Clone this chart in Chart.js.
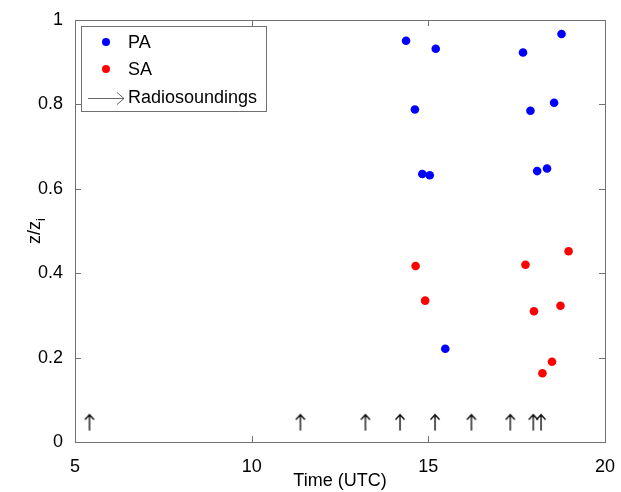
<!DOCTYPE html>
<html>
<head>
<meta charset="utf-8">
<script src="https://cdn.jsdelivr.net/npm/chart.js@4/dist/chart.umd.min.js"></script>
<style>
  html, body { margin: 0; padding: 0; background: #fff; }
  #wrap { width: 621px; height: 492px; }
</style>
</head>
<body>
<div id="wrap"><canvas id="chart" width="621" height="492"></canvas></div>
<script>
// ==============================
// DATA
// ==============================
const paTime = [14.37, 15.21, 17.68, 18.77, 14.62, 17.89, 18.56, 14.83, 15.04, 18.08, 18.36, 15.48];
const paZ    = [0.951, 0.932, 0.923, 0.967, 0.788, 0.785, 0.804, 0.635, 0.632, 0.642, 0.648, 0.221];

const saTime = [14.64, 14.91, 17.75, 18.97, 17.99, 18.74, 18.50, 18.23];
const saZ    = [0.417, 0.335, 0.420, 0.452, 0.310, 0.323, 0.190, 0.163];

const soundingTime  = [5.41, 11.38, 13.22, 14.20, 15.19, 16.22, 17.32, 17.97, 18.19];
const soundingLevel = 0.047;

const xTicks = [5, 10, 15, 20];
const yTicks = [0, 0.2, 0.4, 0.6, 0.8, 1];

const FONT = "'Liberation Sans', Arial, sans-serif";
const FRAME = "#707070";

// up arrow marker for the radiosoundings
function makeArrow() {
  const c = document.createElement("canvas");
  c.width = 12; c.height = 18;
  const g = c.getContext("2d");
  g.strokeStyle = "#000";
  g.lineWidth = 1.3;
  g.beginPath();
  g.moveTo(6, 17.5); g.lineTo(6, 1.5);
  g.moveTo(1.5, 6.5); g.lineTo(6, 1.5); g.lineTo(10.5, 6.5);
  g.stroke();
  return c;
}

const toPts = (xs, ys) => xs.map((x, i) => ({ x: x, y: Array.isArray(ys) ? ys[i] : ys }));

// ==============================
// FRAME, TICKS, TITLES, LEGEND
// ==============================
const decorPlugin = {
  id: "decor",
  afterDatasetsDraw(chart) {
    const { ctx, chartArea: a, scales } = chart;
    ctx.save();
    ctx.strokeStyle = FRAME;
    ctx.lineWidth = 1;
    ctx.strokeRect(a.left + 0.5, a.top + 0.5, a.right - a.left, a.bottom - a.top);
    ctx.beginPath();
    xTicks.forEach(t => {
      const px = Math.round(scales.x.getPixelForValue(t)) + 0.5;
      ctx.moveTo(px, a.bottom); ctx.lineTo(px, a.bottom - 6);
      ctx.moveTo(px, a.top); ctx.lineTo(px, a.top + 6);
    });
    yTicks.forEach(t => {
      const py = Math.round(scales.y.getPixelForValue(t)) + 0.5;
      ctx.moveTo(a.left, py); ctx.lineTo(a.left + 6, py);
      ctx.moveTo(a.right, py); ctx.lineTo(a.right - 6, py);
    });
    ctx.stroke();

    // y title z/z_i
    ctx.fillStyle = "#000";
    ctx.translate(34, (a.top + a.bottom) / 2);
    ctx.rotate(-Math.PI / 2);
    ctx.font = "18px " + FONT;
    ctx.textBaseline = "alphabetic";
    const main = "z/z";
    const w = ctx.measureText(main).width;
    ctx.font = "13px " + FONT;
    const ws = ctx.measureText("i").width;
    const x0 = -(w + ws) / 2;
    ctx.font = "18px " + FONT;
    ctx.fillText(main, x0, 6);
    ctx.font = "13px " + FONT;
    ctx.fillText("i", x0 + w, 11);
    ctx.restore();

    // legend
    ctx.save();
    const L = { x: 81.5, y: 26.5, w: 185, h: 85 };
    ctx.fillStyle = "#fff";
    ctx.fillRect(L.x, L.y, L.w, L.h);
    ctx.strokeStyle = FRAME;
    ctx.strokeRect(L.x, L.y, L.w, L.h);
    ctx.font = "18px " + FONT;
    ctx.textBaseline = "middle";
    ctx.fillStyle = "#0000ff";
    ctx.beginPath(); ctx.arc(106, 42, 4, 0, Math.PI * 2); ctx.fill();
    ctx.fillStyle = "#ff0000";
    ctx.beginPath(); ctx.arc(106, 69, 4, 0, Math.PI * 2); ctx.fill();
    ctx.fillStyle = "#000";
    ctx.fillText("PA", 128, 43);
    ctx.fillText("SA", 128, 70);
    ctx.fillText("Radiosoundings", 128, 98);
    ctx.strokeStyle = "#666";
    ctx.lineWidth = 1;
    ctx.beginPath();
    ctx.moveTo(88, 98.5); ctx.lineTo(124, 98.5);
    ctx.moveTo(117, 92.5); ctx.lineTo(124, 98.5); ctx.lineTo(117, 104.5);
    ctx.stroke();
    ctx.restore();
  }
};

// ==============================
// CHART
// ==============================
new Chart(document.getElementById("chart"), {
  type: "scatter",
  data: {
    datasets: [
      {
        label: "PA",
        data: toPts(paTime, paZ),
        backgroundColor: "#0000ff",
        borderColor: "#0000ff",
        pointRadius: 4.3,
        borderWidth: 0
      },
      {
        label: "SA",
        data: toPts(saTime, saZ),
        backgroundColor: "#ff0000",
        borderColor: "#ff0000",
        pointRadius: 4.3,
        borderWidth: 0
      },
      {
        label: "Radiosoundings",
        data: toPts(soundingTime, soundingLevel),
        pointStyle: makeArrow(),
        pointRadius: 6
      }
    ]
  },
  options: {
    responsive: false,
    animation: false,
    layout: { padding: { left: 0, right: 11, top: 20, bottom: 0 } },
    plugins: {
      legend: { display: false },
      tooltip: { enabled: false }
    },
    scales: {
      x: {
        type: "linear",
        min: 5, max: 20,
        afterBuildTicks: s => { s.ticks = xTicks.map(v => ({ value: v })); },
        afterFit: s => { s.height = 50; },
        grid: { display: false },
        border: { display: false },
        ticks: { color: "#000", font: { family: FONT, size: 18 }, padding: 6, maxRotation: 0 },
        title: {
          display: true,
          text: "Time (UTC)",
          color: "#000",
          font: { family: FONT, size: 18 },
          padding: { top: -3, bottom: 0 }
        }
      },
      y: {
        min: 0, max: 1,
        afterBuildTicks: s => { s.ticks = yTicks.map(v => ({ value: v })); },
        afterFit: s => { s.width = 75; },
        grid: { display: false },
        border: { display: false },
        ticks: {
          color: "#000",
          font: { family: FONT, size: 18 },
          padding: 4,
          callback: v => String(Math.round(v * 10) / 10)
        }
      }
    }
  },
  plugins: [decorPlugin]
});
</script>
</body>
</html>
